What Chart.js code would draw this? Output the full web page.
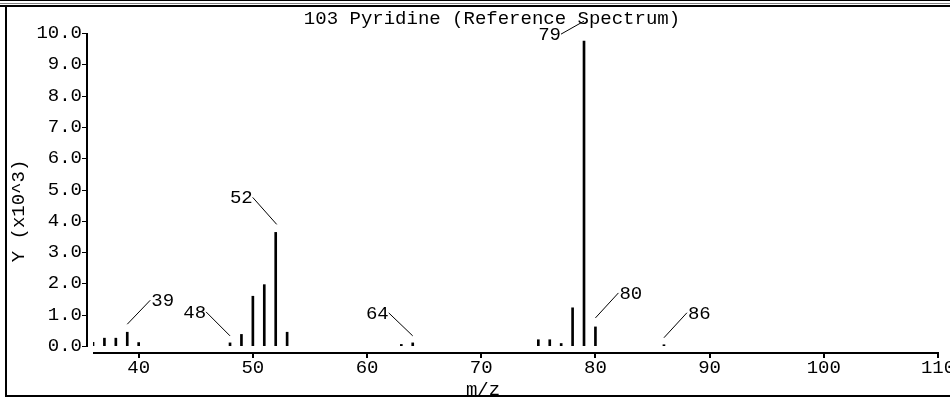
<!DOCTYPE html>
<html><head><meta charset="utf-8">
<script src="https://cdn.jsdelivr.net/npm/chart.js@4/dist/chart.umd.min.js"></script>
<style>html,body{margin:0;padding:0;background:#fff;overflow:hidden}#wrap{width:950px;height:397px;position:relative}</style>
</head><body><div id="wrap"><canvas id="c" width="950" height="397"></canvas></div>
<script>
// ---- data ----
const titleText = '103 Pyridine (Reference Spectrum)';
const xAxisTitle = 'm/z';
const yAxisTitle = 'Y (x10^3)';
const mzValues    = [36, 37, 38, 39, 40, 48, 49, 50, 51, 52, 53, 63, 64, 75, 76, 77, 78, 79, 80, 86];
const intensities = [0.12, 0.25, 0.25, 0.44, 0.11, 0.10, 0.37, 1.59, 1.96, 3.63, 0.44, 0.05, 0.10, 0.20, 0.20, 0.08, 1.22, 9.74, 0.61, 0.04];
const xTickValues = [40, 50, 60, 70, 80, 90, 100, 110];
const yTickValues = [0, 1, 2, 3, 4, 5, 6, 7, 8, 9, 10];
const labeledPeaks = [39, 48, 52, 64, 79, 80, 86];

// ---- layout / style (not data) ----
const FONT = '"Liberation Mono", "DejaVu Sans Mono", monospace';
const FS = 19;
const leaderLayout = {
  39: {x0: 0, y0: -8,  x1: 23,  y1: -32, side: 'right'},
  48: {x0: 0, y0: -7,  x1: -24, y1: -31, side: 'left'},
  52: {x0: 1, y0: -8,  x1: -23, y1: -35, side: 'left'},
  64: {x0: 0, y0: -7,  x1: -24, y1: -30, side: 'left'},
  79: {x0: 0, y0: -20, x1: -23, y1: -7,  side: 'left'},
  80: {x0: 0, y0: -9,  x1: 23,  y1: -34, side: 'right'},
  86: {x0: 0, y0: -7,  x1: 23,  y1: -32, side: 'right'}
};

const framePlugin = {
  id: 'frame',
  afterDraw(chart) {
    const {ctx, chartArea: a, scales: {x, y}} = chart;
    ctx.save();
    ctx.fillStyle = '#000';
    // outer frame
    ctx.fillRect(0, 0, 950, 1);
    ctx.fillStyle = '#808080';
    ctx.fillRect(0, 3, 950, 1);
    ctx.fillStyle = '#000';
    ctx.fillRect(0, 5, 950, 2);
    ctx.fillRect(5, 5, 2, 392);
    ctx.fillRect(5, 395, 945, 2);
    // y axis
    const yTop = y.getPixelForValue(10), yBot = y.getPixelForValue(0);
    const axX = a.left - 7;
    ctx.fillRect(axX, Math.round(yTop), 2, Math.round(yBot - yTop) + 1);
    yTickValues.forEach(v => {
      const py = Math.round(y.getPixelForValue(v));
      ctx.fillRect(axX - 4, py, 4, 1);
    });
    // x axis
    const axY = Math.round(yBot) + 6;
    ctx.fillRect(a.left, axY, a.right - a.left + 1, 2);
    xTickValues.forEach(v => {
      const px = Math.round(x.getPixelForValue(v));
      ctx.fillRect(px - 1, axY + 2, 2, 4);
    });
    // leader lines & peak labels
    ctx.font = FS + 'px ' + FONT;
    ctx.textBaseline = 'middle';
    ctx.strokeStyle = '#000';
    ctx.lineWidth = 1;
    labeledPeaks.forEach(m => {
      const i = mzValues.indexOf(m);
      const px = x.getPixelForValue(m);
      const py = y.getPixelForValue(intensities[i]);
      const L = leaderLayout[m];
      ctx.beginPath();
      ctx.moveTo(px + L.x0, py + L.y0);
      ctx.lineTo(px + L.x1, py + L.y1);
      ctx.stroke();
      ctx.textAlign = L.side === 'right' ? 'left' : 'right';
      ctx.fillText(String(m), px + L.x1 + (L.side === 'right' ? 1 : 0), py + L.y1 + 1);
    });
    // titles
    ctx.textAlign = 'center';
    ctx.fillText(titleText, 492, 19);
    ctx.fillText(xAxisTitle, 483, 390);
    ctx.translate(19, 211);
    ctx.rotate(-Math.PI / 2);
    ctx.fillText(yAxisTitle, 0, 0);
    ctx.restore();
  }
};

new Chart(document.getElementById('c').getContext('2d'), {
  type: 'bar',
  data: {
    datasets: [{
      data: mzValues.map((m, i) => ({x: m, y: intensities[i]})),
      backgroundColor: '#000',
      borderWidth: 0,
      barThickness: 2,
      minBarLength: 1
    }]
  },
  options: {
    responsive: false,
    animation: false,
    events: [],
    layout: {padding: {left: 0, right: 12, top: 33, bottom: 0}},
    plugins: {legend: {display: false}, tooltip: {enabled: false}, title: {display: false}},
    scales: {
      x: {
        type: 'linear', min: 36, max: 110, offset: false,
        grid: {display: false, drawTicks: false, offset: false},
        border: {display: false},
        afterBuildTicks: s => { s.ticks = xTickValues.map(v => ({value: v})); },
        afterFit: s => { s.height = 51; s.paddingLeft = 0; s.paddingRight = 0; },
        ticks: {color: '#000', font: {family: FONT, size: FS}, padding: 11, maxRotation: 0, autoSkip: false,
                callback: v => String(v)}
      },
      y: {
        type: 'linear', min: 0, max: 10,
        grid: {display: false, drawTicks: false},
        border: {display: false},
        afterBuildTicks: s => { s.ticks = yTickValues.map(v => ({value: v})); },
        afterFit: s => { s.width = 93; s.paddingTop = 0; s.paddingBottom = 0; },
        ticks: {color: '#000', font: {family: FONT, size: FS}, padding: 11, autoSkip: false,
                callback: v => Number(v).toFixed(1)}
      }
    }
  },
  plugins: [framePlugin]
});
</script>
</body></html>
